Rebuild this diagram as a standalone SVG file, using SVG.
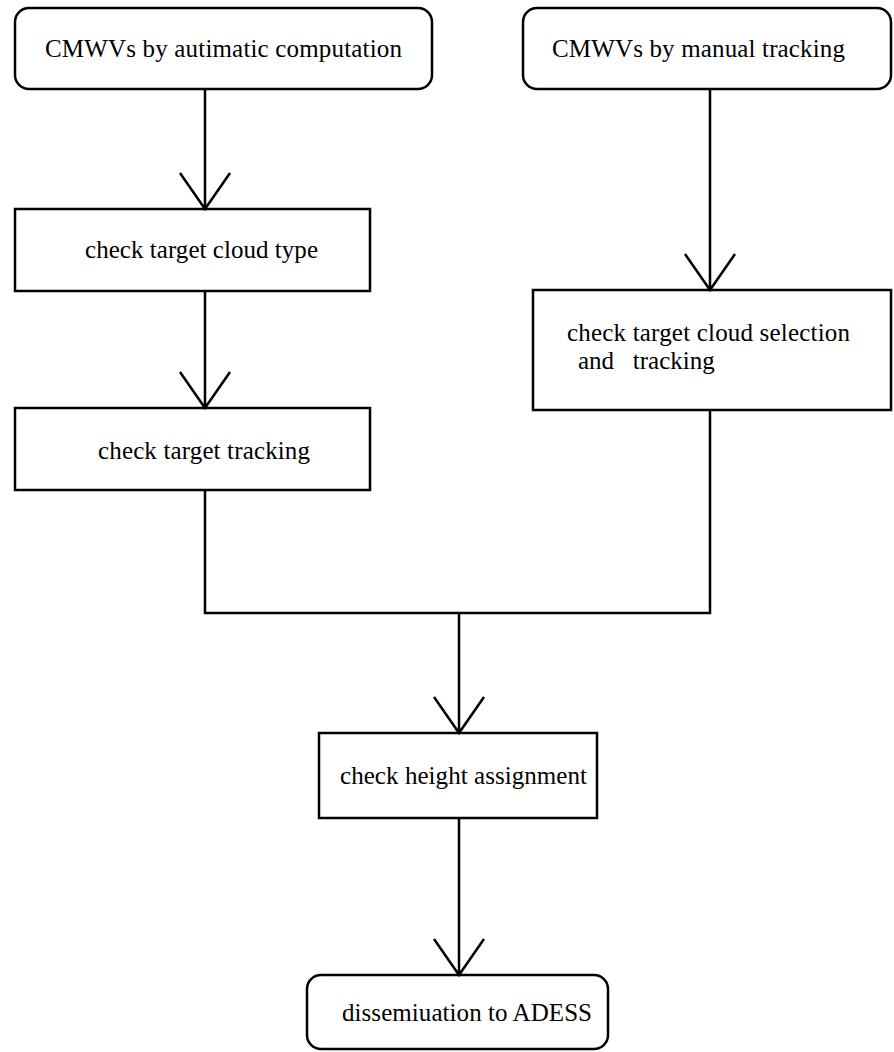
<svg xmlns="http://www.w3.org/2000/svg" width="894" height="1052" viewBox="0 0 894 1052">
<style>
.b{fill:#fff;stroke:#000;stroke-width:2.5}
.t{font-family:"Liberation Serif",serif;font-size:25px;fill:#000}
.c{fill:none;stroke:#000;stroke-width:2.5}
</style>
<rect width="894" height="1052" fill="#fff"/>
<g id="n1"><rect class="b" x="15" y="8" width="417" height="81" rx="14"/><text class="t" x="45" y="57" textLength="357" lengthAdjust="spacing">CMWVs by autimatic computation</text></g>
<g id="n2"><rect class="b" x="523" y="8" width="368" height="81" rx="14"/><text class="t" x="552" y="57" textLength="293" lengthAdjust="spacing">CMWVs by manual tracking</text></g>
<g id="n3"><rect class="b" x="15" y="209" width="355" height="82"/><text class="t" x="85" y="258" textLength="233" lengthAdjust="spacing">check target cloud type</text></g>
<g id="n4"><rect class="b" x="533" y="290" width="358" height="120"/><text class="t" x="567" y="341" textLength="283" lengthAdjust="spacing">check target cloud selection</text><text class="t" x="578" y="369" xml:space="preserve">and   tracking</text></g>
<g id="n5"><rect class="b" x="15" y="408" width="355" height="82"/><text class="t" x="98" y="459" textLength="212" lengthAdjust="spacing">check target tracking</text></g>
<g id="n6"><rect class="b" x="319" y="733" width="278" height="85"/><text class="t" x="340" y="784" textLength="247" lengthAdjust="spacing">check height assignment</text></g>
<g id="n7"><rect class="b" x="307" y="975" width="301" height="74" rx="14"/><text class="t" x="342" y="1021" textLength="250" lengthAdjust="spacing">dissemiuation to ADESS</text></g>
<g id="connectors">
<path class="c" d="M205 89V209M180 173L205 209L230 173"/>
<path class="c" d="M710 89V290M685 254L710 290L735 254"/>
<path class="c" d="M205 291V408M180 372L205 408L230 372"/>
<path class="c" d="M205 490V613H710V410"/>
<path class="c" d="M459 613V733M434 697L459 733L484 697"/>
<path class="c" d="M459 818V975M434 939L459 975L484 939"/>
</g>
</svg>
